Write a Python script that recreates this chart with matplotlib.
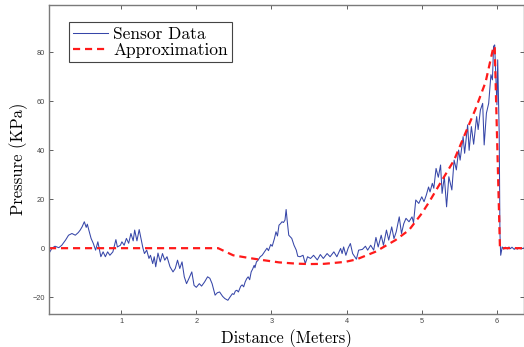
import matplotlib
matplotlib.use("Agg")
import matplotlib.pyplot as plt

# sensor readings (distance in m, pressure in KPa)
dist = [0.044, 0.08, 0.12, 0.17, 0.21, 0.26, 0.30, 0.345, 0.39, 0.43,
        0.455, 0.48, 0.51, 0.535, 0.55, 0.57, 0.60, 0.63, 0.66, 0.69,
        0.71, 0.73, 0.76, 0.79, 0.82, 0.85, 0.89, 0.93, 0.95, 0.99,
        1.01, 1.04, 1.07, 1.10, 1.13, 1.16, 1.18, 1.21, 1.24, 1.26,
        1.29, 1.31, 1.34, 1.37, 1.39, 1.42, 1.44, 1.46, 1.49, 1.52,
        1.55, 1.58, 1.61, 1.65, 1.69, 1.72, 1.75, 1.78, 1.81, 1.84,
        1.87, 1.90, 1.94, 1.97, 2.00, 2.04, 2.07, 2.11, 2.15, 2.18,
        2.21, 2.25, 2.28, 2.31, 2.35, 2.38, 2.42, 2.45, 2.48, 2.50,
        2.52, 2.54, 2.56, 2.59, 2.61, 2.63, 2.65, 2.67, 2.69, 2.71,
        2.73, 2.75, 2.77, 2.78, 2.80, 2.82, 2.85,
        2.876, 2.90, 2.94, 2.96, 2.99, 3.01, 3.04, 3.06, 3.08, 3.10,
        3.12, 3.14, 3.16, 3.18, 3.195, 3.21,
        3.23, 3.27, 3.30, 3.33, 3.35, 3.38, 3.42, 3.45, 3.48, 3.52,
        3.56, 3.61, 3.65, 3.69, 3.74, 3.78, 3.83, 3.87, 3.92, 3.94,
        3.96, 3.99, 4.02, 4.05, 4.08, 4.13, 4.16, 4.21, 4.25, 4.28,
        4.32, 4.36, 4.39, 4.42, 4.46, 4.49, 4.53, 4.56, 4.60, 4.63,
        4.66, 4.70, 4.73, 4.76, 4.79, 4.83, 4.87, 4.89, 4.92, 4.96,
        5.00, 5.03, 5.06, 5.09, 5.11, 5.14, 5.16, 5.19, 5.22, 5.25,
        5.27, 5.30, 5.33, 5.36, 5.40, 5.43, 5.46, 5.49, 5.51, 5.55,
        5.57, 5.61, 5.63, 5.66, 5.69, 5.73, 5.75, 5.78, 5.81, 5.83,
        5.86, 5.89, 5.92, 5.94, 5.955, 5.97, 5.98, 6.00, 6.01, 6.03,
        6.04, 6.05, 6.07, 6.09, 6.11, 6.14, 6.16, 6.18, 6.20, 6.23,
        6.25, 6.27, 6.29, 6.32, 6.36]
pressure = [-1.9, 0, 0.8, 0.2, 1.2, 3.3, 5.3, 6, 5.3, 6.4,
            7.4, 8.7, 10.8, 8.5, 9.8, 7.4, 4, 1.9, -0.8, 2.6,
            -0.5, -3.5, -1.5, -3.5, -1.5, -2.9, -1.5, 3.5, 0.5, 1.2,
            2.6, 1.2, 4, 2, 6, 3, 7.4, 3, 7.6, 4.5,
            0, -2.2, -0.8, -4.2, -2.9, -6.3, -3.5, -7.6, -2, -5.6,
            -2.2, -4.9, -3.5, -7.6, -9.7, -8.3, -4.9, -8.3, -5.6, -11.7,
            -14.5, -12.5, -9.7, -15.2, -16, -14.5, -15.5, -13.8, -11.7, -12.3,
            -14.5, -19.2, -18.2, -17.9, -19.7, -20.6, -21.3, -19.9, -18.6, -18.9,
            -17.5, -17.2, -17.9, -15.6, -15.0, -15.8, -13.8, -12.5, -11.7, -12.9,
            -9.7, -8.5, -7, -8.0, -5.6, -5.0, -3.5,
            -2.9, -1.8, 0, -1.0, 1.5, 0.8, 4.0, 6.7, 5.0, 9.4,
            10.0, 10.8, 10.5, 11.5, 15.8, 11,
            5.3, 4, 1.2, -0.8, -3.3, -3.5, -2.9, -6.3, -3.5, -4.2,
            -2.9, -4.8, -2.6, -4.2, -2.2, -3.5, -1.5, -3.5, -0.1, -2.2,
            0.5, -2.9, 0, 1.9, -2.2, -4.5, -0.8, -0.5, 0.8, -0.8,
            1.2, -0.8, 4.4, 0.5, 5.3, 1.2, 7.4, 3.3, 8.7, 3.9,
            6.7, 12.8, 6, 10, 12.2, 10.8, 12.8, 10.4, 19.7, 18.3,
            21, 19, 21.7, 25, 23, 26.5, 24.5, 32.6, 29, 34,
            22.4, 29.2, 16.9, 29.2, 23.8, 36, 32, 40.1, 36, 45.6,
            38.8, 50.4, 40, 49.7, 42.5, 53.8, 48.5, 56.5, 59.2, 42.2,
            55.2, 59.2, 70.9, 68.8, 82.5, 83.1, 74.3, 58.6, 77, 47,
            6, -2.9, 0.5, -0.4, 0.4, -0.3, 0.5, -0.2, 0.4, -0.5,
            0.3, -0.4, 0.2, -0.3, 0.1]

# fitted approximation
approx_x = [0.04, 2.29, 2.49, 2.70, 2.87, 3.10, 3.32, 3.50, 3.70, 3.98,
            4.13, 4.38, 4.65, 4.83, 5.00, 5.10, 5.27, 5.43, 5.58, 5.71,
            5.85, 5.95, 5.97, 6.04, 6.36]
approx_y = [0, 0, -2.9, -4.0, -4.8, -5.8, -6.3, -6.5, -6.4, -5.6,
            -4.6, -1.5, 3.3, 7.4, 14.2, 19.0, 27.8, 36.0, 47.0, 56.5,
            68.0, 81.8, 82.5, 0, 0]

xticks = [1, 2, 3, 4, 5, 6]
yticks = [-20, 0, 20, 40, 60, 80]

fig = plt.figure(figsize=(5.24, 3.47), dpi=100)
ax = fig.add_axes([49 / 524, 1 - 313.5 / 347, 475 / 524, 308.5 / 347])

ax.plot(dist, pressure, color="#3646a8", lw=0.75, label="Sensor Data")
ax.plot(approx_x, approx_y, color="#ff1a1a", lw=1.6, dashes=(3.2, 2.2),
        label="Approximation")

ax.set_xlim(0.04, 6.36)
ax.set_ylim(-26.7, 99.4)
ax.set_xticks(xticks)
ax.set_yticks(yticks)
ax.set_xticklabels([str(t) for t in xticks], family="Liberation Sans", fontsize=5.3)
ax.set_yticklabels([str(t).replace("-", "\u2212") for t in yticks],
                   family="Liberation Sans", fontsize=5.3)
ax.tick_params(direction="in", length=3, width=0.6, colors="#444444",
               top=True, right=True, pad=3)
for s in ax.spines.values():
    s.set_color("#7a7a7a")
    s.set_linewidth(1.0)

ax.set_xlabel("Distance (Meters)", family="cmr10", fontsize=12, labelpad=3)
ax.set_ylabel("Pressure (KPa)", family="cmr10", fontsize=12, labelpad=3)

leg = ax.legend(loc="upper left", bbox_to_anchor=(0.042, 0.945), borderaxespad=0,
                prop={"family": "cmr10", "size": 12.5}, handlelength=2.0,
                handletextpad=0.3, borderpad=0.25, labelspacing=0.05,
                fancybox=False, framealpha=1)
leg.get_frame().set_edgecolor("#444444")
leg.get_frame().set_linewidth(0.8)

fig.savefig("out.png", dpi=100, facecolor="white")
